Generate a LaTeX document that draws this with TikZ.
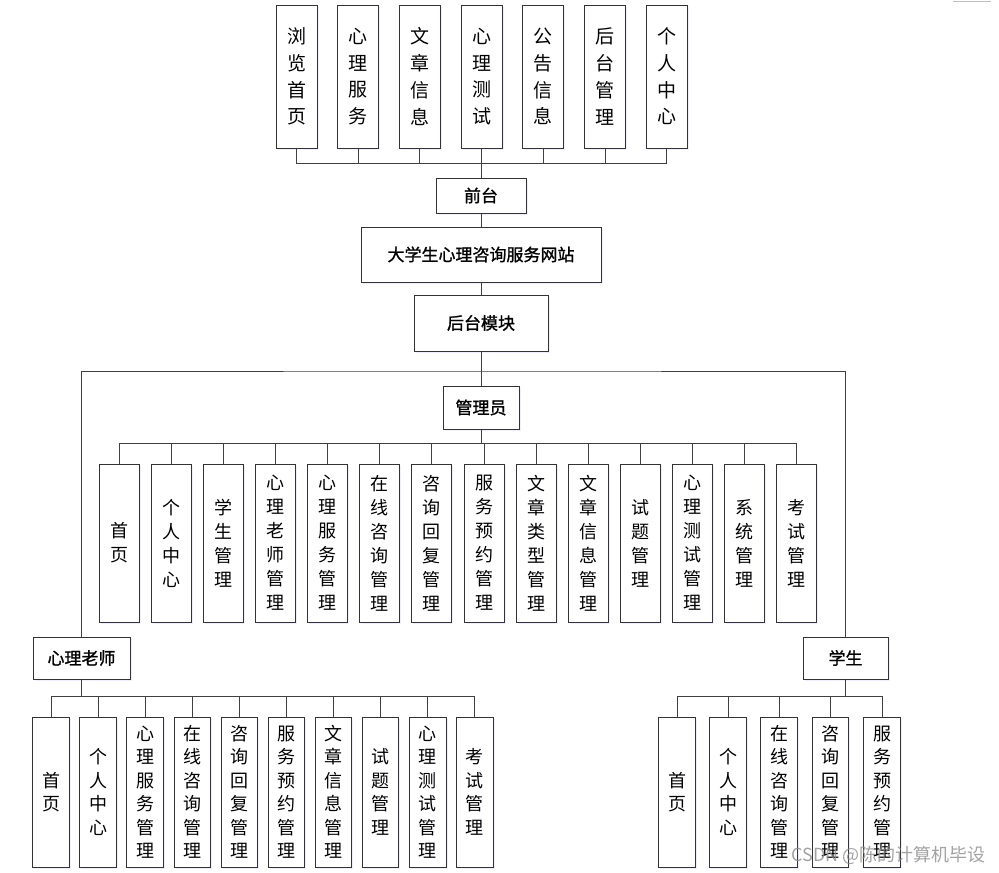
\documentclass[tikz,border=0pt]{standalone}
\usepackage{fontspec}
\newfontfamily\cjk{Noto Sans CJK SC}
\newfontfamily\cjkh[FakeBold=1.2]{Noto Sans CJK SC}
\usetikzlibrary{shadows}
\begin{document}
\begin{tikzpicture}[x=1pt,y=-1pt,
  line width=1pt,
  conn/.style={draw=black!75, line width=1pt},
  boxbase/.style={draw=black!80, fill=white, inner sep=0pt, align=center, line width=1pt,
    drop shadow={shadow xshift=1.5pt, shadow yshift=-1.5pt, fill=blue!12, draw=none, opacity=0.5}},
  toplbl/.style={boxbase, minimum width=41pt, minimum height=143pt,
    font=\cjk\fontsize{19}{26.7}\selectfont},
  admlbl/.style={boxbase, minimum width=40pt, minimum height=158pt,
    font=\cjk\fontsize{18}{24}\selectfont},
  botlbl/.style={boxbase, minimum width=36.5pt, minimum height=150pt,
    font=\cjk\fontsize{18}{23.5}\selectfont},
  head/.style={boxbase, font=\cjkh\fontsize{17}{20}\selectfont}
]
\useasboundingbox (0,0) rectangle (999,873);
\fill[white] (0,0) rectangle (999,873);
\draw[black!25, line width=1pt] (953,1.5) -- (991,1.5);

% top row
\foreach \i/\t in {0/浏\\览\\首\\页, 1/心\\理\\服\\务, 2/文\\章\\信\\息, 3/心\\理\\测\\试, 4/公\\告\\信\\息, 5/后\\台\\管\\理, 6/个\\人\\中\\心}{
  \node[toplbl] (t\i) at ({296.5+61.7*\i},76.5) {\t};
}
\node[head, minimum width=90pt, minimum height=35pt] (qt) at (481,195.5) {前台};
\node[head, minimum width=240pt, minimum height=55pt] (main) at (481,254.5) {大学生心理咨询服务网站};
\node[head, minimum width=134pt, minimum height=56pt] (ht) at (481,323) {后台模块};
\node[head, minimum width=76pt, minimum height=43pt] (gly) at (481,407.5) {管理员};
\node[head, minimum width=97pt, minimum height=42pt] (tea) at (81.5,658) {心理老师};
\node[head, minimum width=85pt, minimum height=42pt] (stu) at (845.5,658) {学生};

\coordinate (bus1) at (481,163);
\coordinate (hbus) at (481,371);
\coordinate (abus) at (481,443);
\coordinate (tbus) at (81.5,696);
\coordinate (sbus) at (845.5,696);

% admin row
\foreach \i/\t in {0/首\\页, 1/个\\人\\中\\心, 2/学\\生\\管\\理, 3/心\\理\\老\\师\\管\\理, 4/心\\理\\服\\务\\管\\理, 5/在\\线\\咨\\询\\管\\理, 6/咨\\询\\回\\复\\管\\理, 7/服\\务\\预\\约\\管\\理, 8/文\\章\\类\\型\\管\\理, 9/文\\章\\信\\息\\管\\理, 10/试\\题\\管\\理, 11/心\\理\\测\\试\\管\\理, 12/系\\统\\管\\理, 13/考\\试\\管\\理}{
  \node[admlbl] (a\i) at ({119+52.15*\i},543) {\t};
}
% teacher row
\foreach \i/\t in {0/首\\页, 1/个\\人\\中\\心, 2/心\\理\\服\\务\\管\\理, 3/在\\线\\咨\\询\\管\\理, 4/咨\\询\\回\\复\\管\\理, 5/服\\务\\预\\约\\管\\理, 6/文\\章\\信\\息\\管\\理, 7/试\\题\\管\\理, 8/心\\理\\测\\试\\管\\理, 9/考\\试\\管\\理}{
  \node[botlbl] (b\i) at ({51+47.1*\i},792) {\t};
}
% student row
\foreach \i/\x/\t in {0/677/首\\页, 1/728/个\\人\\中\\心, 2/779/在\\线\\咨\\询\\管\\理, 3/830.5/咨\\询\\回\\复\\管\\理, 4/882/服\\务\\预\\约\\管\\理}{
  \node[botlbl] (s\i) at (\x,792) {\t};
}

% connectors
\foreach \i in {0,...,6}{ \draw[conn] (t\i.south) |- (bus1); }
\draw[conn] (bus1) -- (qt.north);
\draw[conn] (qt.south) -- (main.north);
\draw[conn] (main.south) -- (ht.north);
\draw[conn] (ht.south) -- (gly.north);
\draw[conn] (tea.north) |- (hbus) -| (stu.north);
\foreach \i in {0,...,13}{ \draw[conn] (a\i.north) |- (abus); }
\draw[conn] (gly.south) -- (abus);
\foreach \i in {0,...,9}{ \draw[conn] (b\i.north) |- (tbus); }
\draw[conn] (tea.south) -- (tbus);
\foreach \i in {0,...,4}{ \draw[conn] (s\i.north) |- (sbus); }
\draw[conn] (stu.south) -- (sbus);

% watermark
\node[anchor=west, inner sep=0pt, text=black!45, opacity=0.8,
  font=\cjk\fontsize{18}{20}\selectfont] (wm) at (791,855) {CSDN @陈的计算机毕设};
\end{tikzpicture}
\end{document}
